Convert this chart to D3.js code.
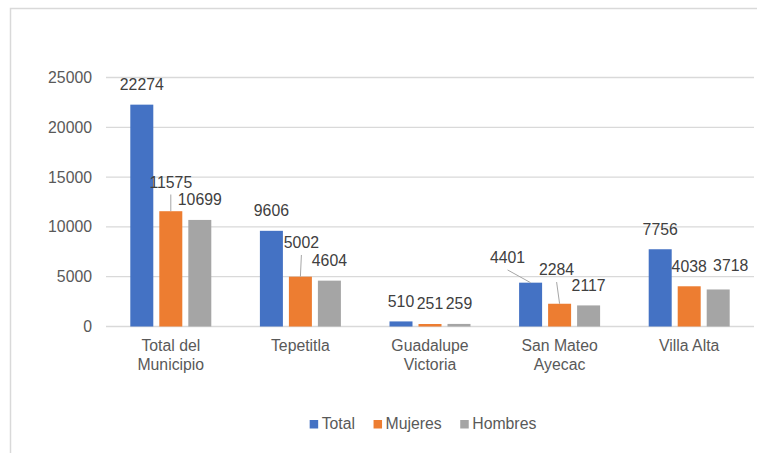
<!DOCTYPE html>
<html>
<head>
<meta charset="utf-8">
<script src="https://cdn.jsdelivr.net/npm/d3@7"></script>
<style>
  body { margin: 0; background: #fff; }
  svg { display: block; font-family: "Liberation Sans", Arial, sans-serif; }
</style>
</head>
<body>
<svg width="757" height="453"></svg>
<script>
// data
var categories = ["Total del Municipio", "Tepetitla", "Guadalupe Victoria", "San Mateo Ayecac", "Villa Alta"];
var seriesNames = ["Total", "Mujeres", "Hombres"];
var total   = [22274, 9606, 510, 4401, 7756];
var mujeres = [11575, 5002, 251, 2284, 4038];
var hombres = [10699, 4604, 259, 2117, 3718];
var yTicks  = [0, 5000, 10000, 15000, 20000, 25000];

var colors = ["#4472c4", "#ed7d31", "#a5a5a5"];
var values = [total, mujeres, hombres];

// labels that were dragged away from their bars (series index, category index, dx, dy, leader line)
var labelNudges = [
    { s: 1, i: 0, dx: 0, dy: -9, leader: true },
    { s: 1, i: 1, dx: 1, dy: -14, leader: true },
    { s: 0, i: 3, dx: -23, dy: -5, leader: true },
    { s: 1, i: 3, dx: -3, dy: -14, leader: true },
    { s: 2, i: 4, dx: 12.5, dy: -4, leader: false }
];

var svg = d3.select("svg");
var fontSize = 15.8;

// chart border
svg.append("rect")
    .attr("x", 10.5).attr("y", 8.5)
    .attr("width", 800).attr("height", 500)
    .attr("fill", "none")
    .attr("stroke", "#d9d9d9")
    .attr("stroke-width", 1.5);

var x0 = d3.scaleBand()
    .domain(categories)
    .range([106, 754])
    .paddingInner(0.375)
    .paddingOuter(0.1875);

var x1 = d3.scaleBand()
    .domain(seriesNames)
    .range([0, x0.bandwidth()])
    .paddingInner(0.207);

var y = d3.scaleLinear()
    .domain([0, 25000])
    .range([326.5, 77.5]);

// gridlines
svg.append("g")
    .selectAll("line")
    .data(yTicks)
    .enter().append("line")
        .attr("x1", 106).attr("x2", 754)
        .attr("y1", function(d) { return y(d); })
        .attr("y2", function(d) { return y(d); })
        .attr("stroke", "#d9d9d9")
        .attr("stroke-width", 1.3);

// y axis labels
var yAxis = svg.append("g")
    .attr("transform", "translate(92,0)")
    .call(d3.axisLeft(y).tickValues(yTicks).tickSize(0).tickPadding(0).tickFormat(d3.format("d")));
yAxis.select(".domain").remove();
yAxis.selectAll("text")
    .attr("fill", "#595959")
    .style("font-size", fontSize + "px")
    .style("font-family", "'Liberation Sans', Arial, sans-serif");

// category labels, wrapped
var xAxis = svg.append("g")
    .attr("transform", "translate(0,350.5)");
xAxis.selectAll("text")
    .data(categories)
    .enter().append("text")
        .attr("x", function(d) { return x0(d) + x0.bandwidth() / 2; })
        .attr("y", 0)
        .attr("text-anchor", "middle")
        .attr("fill", "#595959")
        .style("font-size", fontSize + "px")
        .each(function(d) { wrap(d3.select(this), d, 110); });

function wrap(text, str, maxW) {
    var words = str.split(" ");
    var line = [];
    var lineNo = 0;
    var cx = text.attr("x");
    var tspan = text.append("tspan").attr("x", cx).attr("dy", 0);
    words.forEach(function(w) {
        line.push(w);
        tspan.text(line.join(" "));
        if (tspan.node().getComputedTextLength() > maxW && line.length > 1) {
            line.pop();
            tspan.text(line.join(" "));
            line = [w];
            lineNo++;
            tspan = text.append("tspan").attr("x", cx).attr("dy", "19.3px").text(w);
        }
    });
}

// bars
var groups = svg.append("g")
    .selectAll("g")
    .data(values)
    .enter().append("g")
        .attr("fill", function(d, s) { return colors[s]; });

groups.selectAll("rect")
    .data(function(d, s) { return d.map(function(v, i) { return { s: s, i: i, v: v }; }); })
    .enter().append("rect")
        .attr("x", function(d) { return x0(categories[d.i]) + x1(seriesNames[d.s]); })
        .attr("y", function(d) { return y(d.v); })
        .attr("width", x1.bandwidth())
        .attr("height", function(d) { return y(0) - y(d.v); });

// data labels
var labels = [];
values.forEach(function(arr, s) {
    arr.forEach(function(v, i) {
        var n = labelNudges.find(function(o) { return o.s == s && o.i == i; });
        var bx = x0(categories[i]) + x1(seriesNames[s]) + x1.bandwidth() / 2;
        var by = y(v);
        labels.push({
            v: v, bx: bx, by: by,
            lx: bx + (n ? n.dx : 0),
            ly: by - 14.7 + (n ? n.dy : 0),
            leader: n ? n.leader : false
        });
    });
});

svg.append("g")
    .selectAll("line")
    .data(labels.filter(function(d) { return d.leader; }))
    .enter().append("line")
        .attr("x1", function(d) { return d.lx; })
        .attr("y1", function(d) { return d.ly + 7; })
        .attr("x2", function(d) { return d.bx; })
        .attr("y2", function(d) { return d.by; })
        .attr("stroke", "#a6a6a6")
        .attr("stroke-width", 1);

svg.append("g")
    .selectAll("text")
    .data(labels)
    .enter().append("text")
        .attr("x", function(d) { return d.lx; })
        .attr("y", function(d) { return d.ly; })
        .attr("text-anchor", "middle")
        .attr("fill", "#404040")
        .style("font-size", fontSize + "px")
        .text(function(d) { return d.v; });

// legend
var legend = svg.append("g");
var lx = 0;
seriesNames.forEach(function(name, s) {
    var item = legend.append("g").attr("transform", "translate(" + lx + ",0)");
    item.append("rect")
        .attr("x", 0).attr("y", -3.5)
        .attr("width", 8.5).attr("height", 8.5)
        .attr("fill", colors[s]);
    var t = item.append("text")
        .attr("x", 12)
        .attr("y", 5.8)
        .attr("fill", "#595959")
        .style("font-size", fontSize + "px")
        .text(name);
    lx += 12 + t.node().getComputedTextLength() + 18.5;
});
var legendW = lx - 18.5;
legend.attr("transform", "translate(" + (423 - legendW / 2) + ",423.5)");
</script>
</body>
</html>
